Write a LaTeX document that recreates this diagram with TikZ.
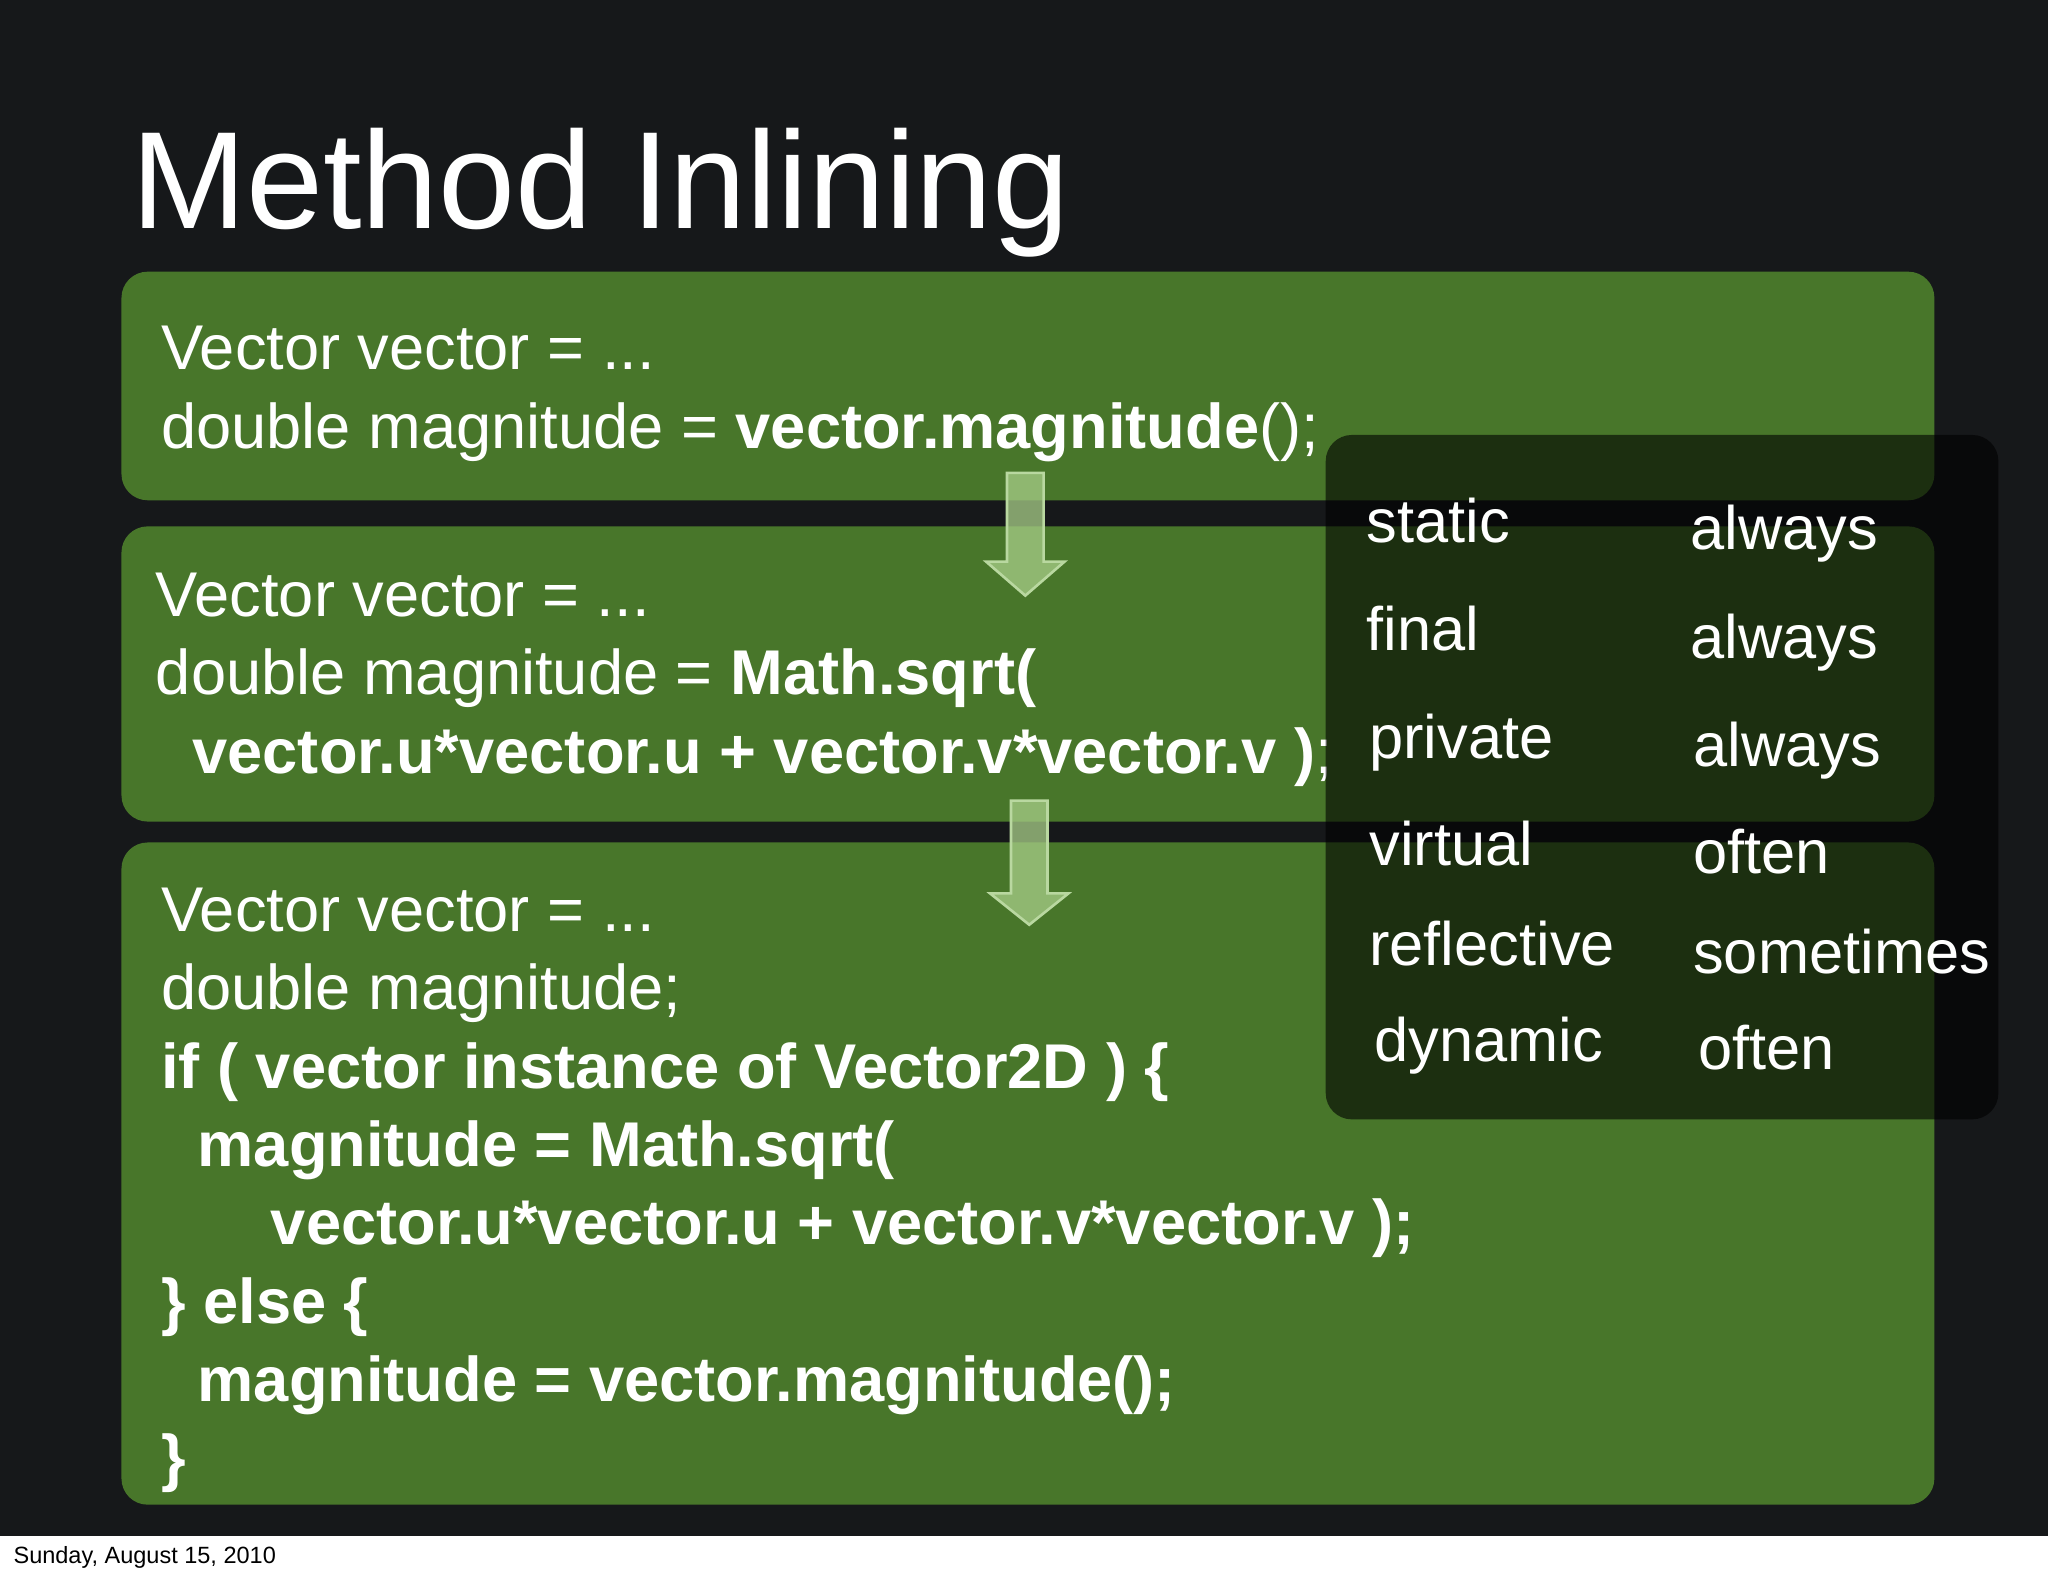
\documentclass[tikz,border=0pt]{standalone}
\usepackage{fontspec}
\setmainfont{Liberation Sans}
\begin{document}
\begin{tikzpicture}[x=0.5pt,y=-0.5pt,
  gbox/.style={fill=boxgreen,rounded corners=10pt,draw=none},
  code/.style={anchor=base west,inner sep=0pt,font=\fontsize{24.2}{30}\selectfont,text=white},
  tab/.style={anchor=base west,inner sep=0pt,font=\fontsize{23.5}{28}\selectfont,text=white},
  darrow/.style={fill=arrowgreen,fill opacity=0.75,draw=arrowgreen!80!white,line width=1pt}]
\definecolor{boxgreen}{RGB}{72,118,42}
\definecolor{arrowgreen}{RGB}{168,206,136}
\definecolor{bg}{RGB}{22,24,26}
\definecolor{overlay}{RGB}{30,55,20}
\useasboundingbox (0,0) rectangle (1568,1206);
\fill[bg] (0,0) rectangle (1568,1176);
\fill[white] (0,1176) rectangle (1568,1206);
\node[anchor=base west,inner sep=0pt,font=\fontsize{9}{10}\selectfont] (date) at (10,1197) {Sunday, August 15, 2010};
\node[anchor=base west,inner sep=0pt,font=\fontsize{53}{60}\selectfont,text=white] (title) at (100,175) {Method Inlining};
\path[gbox] (93,208) rectangle (1481,383);
\path[gbox] (93,403) rectangle (1481,629);
\path[gbox] (93,645) rectangle (1481,1152);
\node[code] (a1) at (123,283) {Vector vector = ...};
\node[code] (a2) at (123,343) {double magnitude = \textbf{vector.magnitude}();};
\node[code] (b1) at (119,472) {Vector vector = ...};
\node[code] (b2) at (119,532) {double magnitude = \textbf{Math.sqrt(}};
\node[code] (b3) at (147,592) {\textbf{vector.u*vector.u + vector.v*vector.v )};};
\node[code] (c1) at (123,713) {Vector vector = ...};
\node[code] (c2) at (123,773) {double magnitude;};
\node[code] (c3) at (123,833) {\textbf{if ( vector instance of Vector2D ) \{}};
\node[code] (c4) at (151,893) {\textbf{magnitude = Math.sqrt(}};
\node[code] (c5) at (207,953) {\textbf{vector.u*vector.u + vector.v*vector.v );}};
\node[code] (c6) at (123,1013) {\textbf{\} else \{}};
\node[code] (c7) at (151,1073) {\textbf{magnitude = vector.magnitude();}};
\node[code] (c8) at (123,1133) {\textbf{\}}};
\path[darrow] (771,362) -- (799,362) -- (799,430) -- (815,430) -- (785,456) -- (755,430) -- (771,430) -- cycle;
\path[darrow] (774,613) -- (802,613) -- (802,684) -- (818,684) -- (788,708) -- (758,684) -- (774,684) -- cycle;
\fill[overlay,opacity=0.6,rounded corners=10pt] (1015,333) rectangle (1530,857);
\node[tab] at (1046,415) {static};
\node[tab] at (1294,421) {always};
\node[tab] at (1046,498) {final};
\node[tab] at (1294,504) {always};
\node[tab] at (1048,581) {private};
\node[tab] at (1296,587) {always};
\node[tab] at (1048,663) {virtual};
\node[tab] at (1296,669) {often};
\node[tab] at (1048,739) {reflective};
\node[tab] at (1296,745) {sometimes};
\node[tab] at (1052,813) {dynamic};
\node[tab] at (1300,819) {often};
\end{tikzpicture}
\end{document}
